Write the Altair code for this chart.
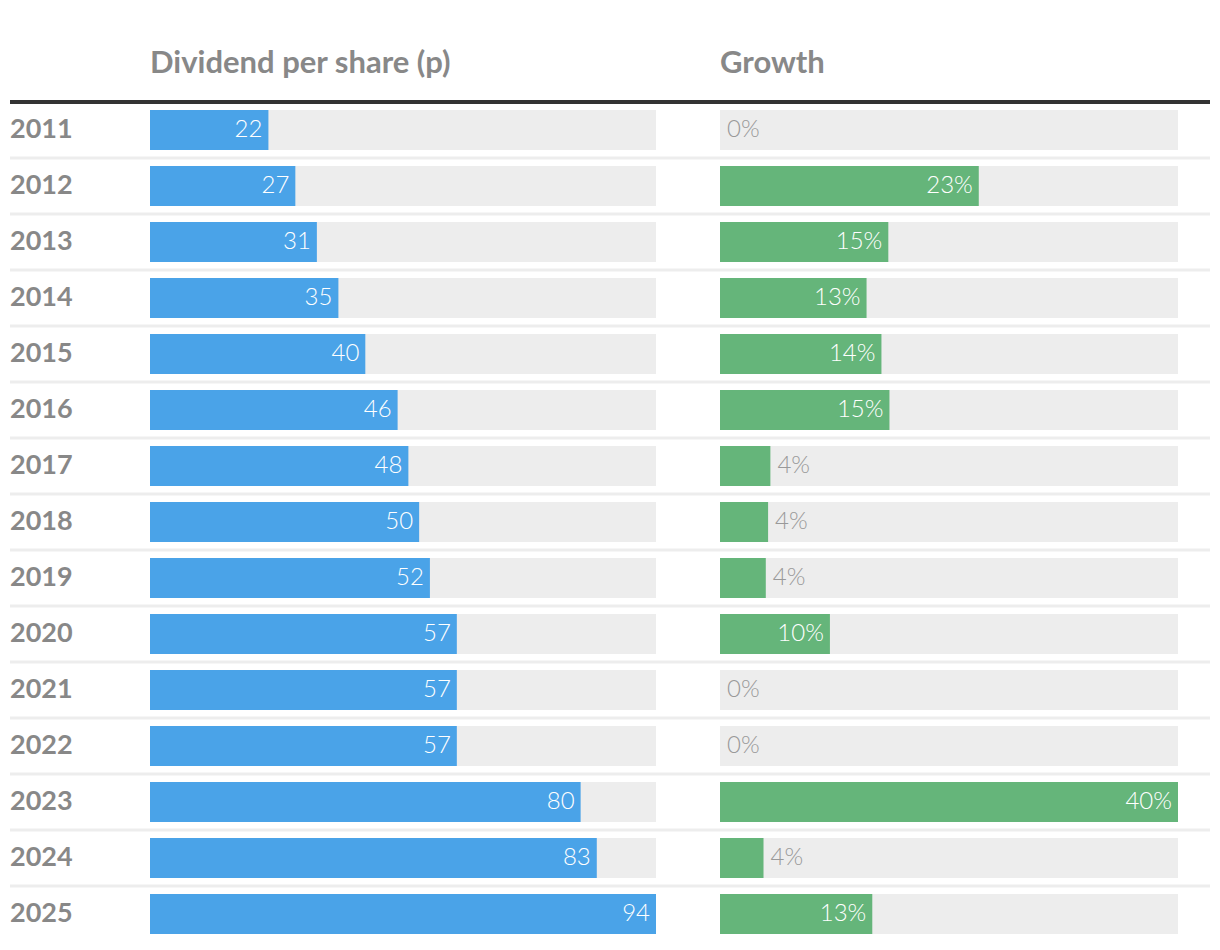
import altair as alt
import pandas as pd

years = [str(y) for y in range(2011, 2026)]
dividend = [22, 27, 31, 35, 40, 46, 48, 50, 52, 57, 57, 57, 80, 83, 94]
growth = [0, 22.6, 14.7, 12.8, 14.1, 14.8, 4.4, 4.2, 4.0, 9.6, 0, 0, 40, 3.8, 13.3]
headers = ["Dividend per share (p)", "Growth"]

df = pd.DataFrame({"row": years, "dividend": dividend, "growth": growth})
df["div_max"] = max(dividend)
df["gr_max"] = max(growth)
df["gr_label"] = [f"{round(g):.0f}%" for g in growth]
df["inside"] = df["growth"] >= 8

hdr = pd.DataFrame({"row": ["hdr"], "t1": [headers[0]], "t2": [headers[1]]})
sep = df[df["row"] != years[-1]]

FONT = "Lato"
ydom = ["hdr"] + years
yscale = alt.Scale(domain=ydom, paddingInner=0, paddingOuter=0)
Y = alt.Y("row:N", scale=yscale, axis=None)
xb = alt.Scale(domain=[0, max(dividend)], range=[140, 646], nice=False, zero=True)
xg = alt.Scale(domain=[0, max(growth)], range=[710, 1168], nice=False, zero=True)

base = alt.Chart(df)

# separators and header line
seps = alt.Chart(sep).mark_rule(color="#ededed", strokeWidth=3).encode(
    y=alt.Y("row:N", scale=yscale, axis=None, bandPosition=1),
    x=alt.value(0), x2=alt.value(1200))
thick = alt.Chart(hdr).mark_rule(color="#333333", strokeWidth=4).encode(
    y=alt.Y("row:N", scale=yscale, axis=None, bandPosition=1),
    x=alt.value(0), x2=alt.value(1200))
years_txt = base.mark_text(align="left", baseline="middle", font=FONT, fontWeight="bold",
                           fontSize=27, color="#888888").encode(
    y=Y, x=alt.value(0), text="row:N")

# dividend part
bg_b = base.mark_bar(height=40, color="#ededed").encode(
    y=Y, x=alt.X("div_max:Q", scale=xb, axis=None), x2=alt.datum(0))
bar_b = base.mark_bar(height=40, color="#4aa3e8").encode(
    y=Y, x=alt.X("dividend:Q", scale=xb, axis=None), x2=alt.datum(0))
txt_b = base.mark_text(align="right", baseline="middle", dx=-6, font=FONT, fontWeight=300,
                       fontSize=24, color="white").encode(
    y=Y, x=alt.X("dividend:Q", scale=xb, axis=None), text=alt.Text("dividend:Q", format=".0f"))
hdr_b = alt.Chart(hdr).mark_text(align="left", baseline="middle", dy=-10, font=FONT,
                                 fontWeight="bold", fontSize=31, color="#888888").encode(
    y=Y, x=alt.X(datum=0, type="quantitative", scale=xb, axis=None), text="t1:N")
div_layer = alt.layer(bg_b, bar_b, txt_b, hdr_b)

# growth part
bg_g = base.mark_bar(height=40, color="#ededed").encode(
    y=Y, x=alt.X("gr_max:Q", scale=xg, axis=None), x2=alt.datum(0))
bar_g = base.mark_bar(height=40, color="#65b57a").encode(
    y=Y, x=alt.X("growth:Q", scale=xg, axis=None), x2=alt.datum(0))
txt_in = base.transform_filter("datum.inside").mark_text(
    align="right", baseline="middle", dx=-6, font=FONT, fontWeight=300,
    fontSize=24, color="white").encode(
    y=Y, x=alt.X("growth:Q", scale=xg, axis=None), text="gr_label:N")
txt_out = base.transform_filter("!datum.inside").mark_text(
    align="left", baseline="middle", dx=7, font=FONT, fontWeight=300,
    fontSize=24, color="#999999").encode(
    y=Y, x=alt.X("growth:Q", scale=xg, axis=None), text="gr_label:N")
hdr_g = alt.Chart(hdr).mark_text(align="left", baseline="middle", dy=-10, font=FONT,
                                 fontWeight="bold", fontSize=31, color="#888888").encode(
    y=Y, x=alt.X(datum=0, type="quantitative", scale=xg, axis=None), text="t2:N")
gr_layer = alt.layer(bg_g, bar_g, txt_in, txt_out, hdr_g)

chart = alt.layer(seps, thick, years_txt, div_layer, gr_layer).resolve_scale(
    x="independent").properties(
    width=1200, height=56 * len(ydom),
    padding={"top": 38, "left": 0, "right": 0, "bottom": 0},
    background="white").configure_view(stroke=None)

chart.save("out.html", embed_options={"renderer": "svg", "actions": False})
